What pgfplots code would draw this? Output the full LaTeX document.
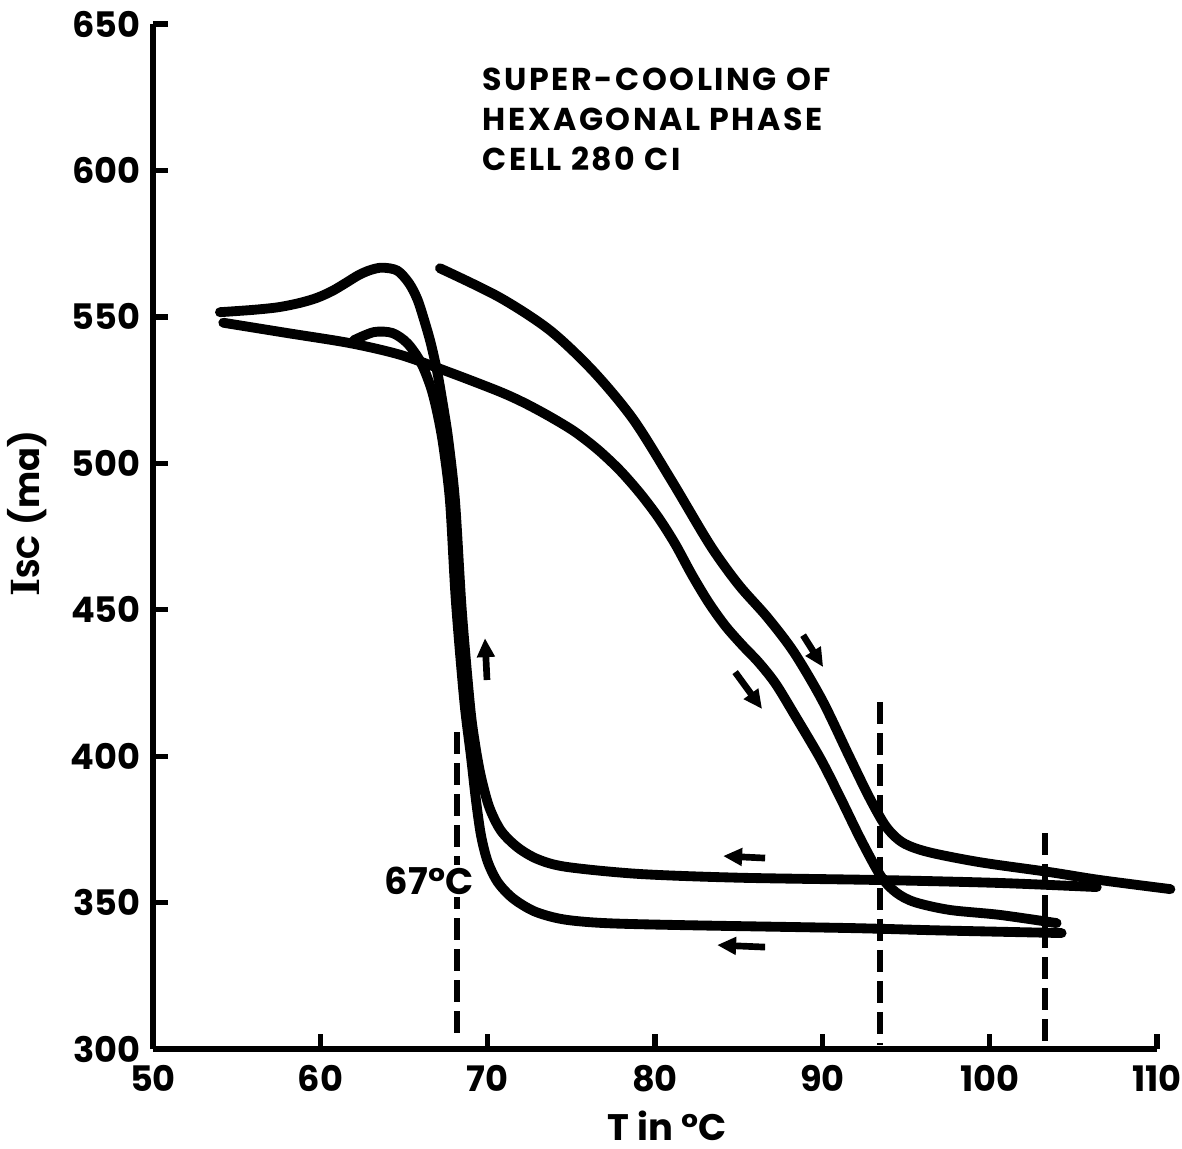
\documentclass[border=0pt]{standalone}
\usepackage{fontspec}
\setmainfont{Poppins}
\newfontfamily\seriffont{DejaVu Serif}
\usepackage{pgfplots}
\pgfplotsset{compat=1.18}
\usetikzlibrary{arrows.meta}

\pgfplotstableread{
T I
54.2 548.0
58.0 544.5
61.8 541.0
64.8 537.0
67.75 531.0
70.7 524.5
72.2 520.6
73.7 516.0
75.2 510.8
76.6 504.6
77.9 497.6
79.1 489.8
80.2 481.5
81.2 472.5
82.2 462.0
83.2 452.5
84.2 444.5
85.2 438.0
86.2 432.0
87.2 424.8
88.3 414.5
89.9 399.0
91.1 385.5
92.3 371.5
93.5 359.0
94.4 353.5
95.5 350.2
97.6 347.5
100.6 345.8
104.0 343.0
}\heatA

\pgfplotstableread{
T I
67.15 566.6
70.7 556.7
73.7 545.5
76.3 531.5
78.7 515.0
81.0 494.0
83.3 472.0
85.0 458.5
86.7 447.5
88.3 435.5
90.0 419.0
91.6 400.0
92.8 386.0
93.8 376.0
94.8 370.5
96.3 367.3
99.4 363.8
103.6 360.4
106.6 357.7
110.8 354.6
}\heatB

\pgfplotstableread{
T I
106.4 355.3
100.6 356.7
93.5 357.7
85.0 358.5
79.0 359.8
74.7 362.2
73.0 364.8
71.8 368.8
70.8 374.5
70.1 382.5
69.6 393.0
69.25 404.0
68.95 417.0
68.45 450.0
68.05 487.0
67.65 507.9
67.35 519.2
67.0 530.8
66.6 541.0
66.2 549.0
65.8 556.0
65.3 561.5
64.6 565.8
63.7 566.8
63.0 566.0
62.3 564.3
61.5 561.5
60.7 558.8
59.8 556.5
58.8 554.8
57.5 553.3
56.0 552.4
54.0 551.6
}\coolA

\pgfplotstableread{
T I
104.3 339.6
97.0 340.5
91.7 341.3
81.7 342.3
77.0 343.0
74.5 344.3
72.8 347.0
71.5 351.5
70.6 357.0
70.0 364.0
69.6 373.0
69.3 385.0
69.0 400.0
68.6 419.0
68.1 453.0
67.75 487.0
67.35 506.0
67.0 517.0
66.6 526.0
66.0 534.5
65.2 541.0
64.3 544.5
63.2 544.8
62.0 542.0
}\coolB

\begin{document}
\begin{tikzpicture}
\begin{axis}[
  scale only axis, width=10.04cm, height=10.25cm,
  xmin=50, xmax=110, ymin=300, ymax=650,
  axis x line*=bottom, axis y line*=left,
  axis line style={line width=1.9pt, -},
  xtick={50,60,...,110}, ytick={300,350,...,650},
  tick align=inside, major tick length=0.15cm,
  every tick/.style={line width=1.5pt, black},
  /pgf/number format/assume math mode=true,
  tick label style={font=\fontsize{10}{12}\selectfont\bfseries},
  xticklabel style={yshift=-0.04cm},
  xlabel={T in °C},
  xlabel style={font=\fontsize{10.5}{12}\selectfont\bfseries, at={(axis description cs:0.512,-0.0745)}, anchor=center},
  ylabel={{\seriffont\bfseries\fontsize{11}{12}\selectfont I}{\fontsize{9}{10}\selectfont\bfseries SC}\ {\bfseries (ma)}},
  ylabel style={font=\fontsize{10}{12}\selectfont, at={(axis description cs:-0.1255,0.522)}, anchor=center},
  clip=false,
]
\addplot[black, line width=2.8pt, line cap=round, line join=round, smooth] table[x=T, y=I] {\heatA};
\addplot[black, line width=2.8pt, line cap=round, line join=round, smooth] table[x=T, y=I] {\heatB};
\addplot[black, line width=2.8pt, line cap=round, line join=round, smooth] table[x=T, y=I] {\coolA};
\addplot[black, line width=2.8pt, line cap=round, line join=round, smooth] table[x=T, y=I] {\coolB};

\addplot[black, line width=1.7pt, dash pattern=on 0.22cm off 0.09cm] coordinates {(68.15,408.2) (68.15,304.8)};
\addplot[black, line width=1.7pt, dash pattern=on 0.22cm off 0.09cm] coordinates {(93.45,418.5) (93.45,301.4)};
\addplot[black, line width=1.7pt, dash pattern=on 0.22cm off 0.09cm] coordinates {(103.3,373.7) (103.3,301.4)};

\node[fill=white, inner sep=0.5pt, font=\fontsize{10.5}{12}\selectfont\bfseries] at (axis cs:66.5,357.4) {67°C};

\node[anchor=north west, inner sep=0pt, align=left, font=\fontsize{9}{11.4}\selectfont\bfseries\addfontfeatures{LetterSpace=8}] at (axis cs:69.67,635.3) {SUPER-COOLING OF\\HEXAGONAL PHASE\\CELL 280 CI};

\draw[line width=1.9pt, -{Triangle[length=0.19cm, width=0.17cm]}] (axis cs:69.96,426.0) -- (axis cs:69.84,440.3);
\draw[line width=1.9pt, -{Triangle[length=0.19cm, width=0.17cm]}] (axis cs:88.85,441.3) -- (axis cs:90.05,430.4);
\draw[line width=1.9pt, -{Triangle[length=0.19cm, width=0.17cm]}] (axis cs:84.79,428.7) -- (axis cs:86.40,416.1);
\draw[line width=1.9pt, -{Triangle[length=0.19cm, width=0.17cm]}] (axis cs:86.58,365.2) -- (axis cs:84.07,365.9);
\draw[line width=1.9pt, -{Triangle[length=0.19cm, width=0.17cm]}] (axis cs:86.58,334.8) -- (axis cs:83.71,335.5);
\end{axis}
\pgfresetboundingbox
\useasboundingbox (-1.53,-0.99) rectangle (10.29,10.49);
\end{tikzpicture}
\end{document}
